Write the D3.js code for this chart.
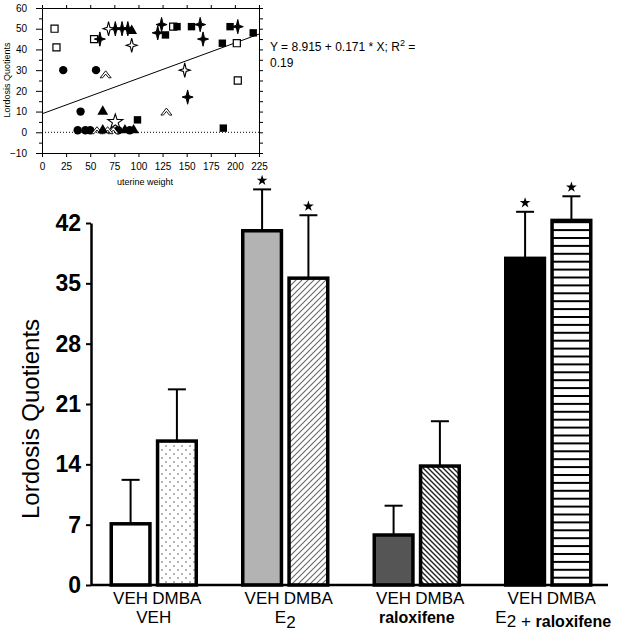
<!DOCTYPE html>
<html><head><meta charset="utf-8">
<script src="https://cdn.jsdelivr.net/npm/d3@7"></script>
<style>
body{margin:0;background:#fff;}
svg{display:block;}
text{font-family:"Liberation Sans",Arial,sans-serif;}
</style></head>
<body>
<svg id="c" width="620" height="635"></svg>
<script>
// ---------- Main bar chart data ----------
const groups = ["VEH", "E2", "raloxifene", "E2 + raloxifene"];
const treatments = ["VEH", "DMBA"];
const meanVEH = [7.1, 41.1, 5.8, 37.9];
const meanDMBA = [16.7, 35.6, 13.8, 42.3];
const semVEH = [5.1, 4.8, 3.4, 5.4];
const semDMBA = [6.0, 7.3, 5.2, 2.8];
const sigVEH = [false, true, false, true];
const sigDMBA = [false, true, false, true];
const yTicks = [0, 7, 14, 21, 28, 35, 42];

// ---------- Inset scatter data (uterine weight, lordosis quotient) ----------
const openSquares = [[13,50],[15,41],[54,45],[136,51],[202,43],[203,25]];
const filledCircles = [[22,30],[56,30],[40,10],[37,1],[45,1],[50,1],[79,1],[91,1]];
const openTriangles = [[66,28],[129,10],[57,1],[74,1],[68,1]];
const filledTriangles = [[93,49],[63,10],[63,1],[86,1],[95,1]];
const filledSparkles = [[60,45],[76,50],[83,50],[89,50],[124,52],[120,48],[164,52],[167,45],[203,51],[151,17]];
const openSparkles = [[69,50],[93,42],[148,30]];
const filledSquares = [[128,47],[140,51],[155,51],[195,51],[187,43],[219,48],[99,6],[188,2]];
const openStars = [[76,5]];
const insetXTicks = [0,25,50,75,100,125,150,175,200,225];
const insetYTicks = [-10,0,10,20,30,40,50,60];
const regIntercept = 8.915, regSlope = 0.171;

const FONT = "'Liberation Sans', Arial, sans-serif";
const svg = d3.select("#c");
const defs = svg.append("defs");

// patterns
const pDots = defs.append("pattern").attr("id","dots").attr("patternUnits","userSpaceOnUse").attr("width",8).attr("height",8);
pDots.append("rect").attr("width",8).attr("height",8).attr("fill","#fff");
pDots.append("circle").attr("cx",2).attr("cy",2).attr("r",0.7).attr("fill","#333");
pDots.append("circle").attr("cx",6).attr("cy",6).attr("r",0.7).attr("fill","#333");

const pFwd = defs.append("pattern").attr("id","fwd").attr("patternUnits","userSpaceOnUse").attr("width",6).attr("height",6);
pFwd.append("rect").attr("width",6).attr("height",6).attr("fill","#fff");
pFwd.append("path").attr("d","M-1,7 L7,-1 M-1,1 L1,-1 M5,7 L7,5").attr("stroke","#666").attr("stroke-width",1.1);

const pBack = defs.append("pattern").attr("id","back").attr("patternUnits","userSpaceOnUse").attr("width",5).attr("height",5);
pBack.append("rect").attr("width",5).attr("height",5).attr("fill","#fff");
pBack.append("path").attr("d","M-1,-1 L6,6 M4,-1 L6,1 M-1,4 L1,6").attr("stroke","#222").attr("stroke-width",1.4);

const pHor = defs.append("pattern").attr("id","hor").attr("patternUnits","userSpaceOnUse").attr("width",8).attr("height",7.9);
pHor.append("rect").attr("width",8).attr("height",7.9).attr("fill","#fff");
pHor.append("rect").attr("y",0).attr("width",8).attr("height",2).attr("fill","#000");

const fillsVEH = ["#fff", "#b3b3b3", "#555", "#000"];
const fillsDMBA = ["url(#dots)", "url(#fwd)", "url(#back)", "url(#hor)"];

// ---------- Main chart ----------
const y = d3.scaleLinear().domain([0, 42]).range([585, 223]);
const x0 = d3.scaleBand().domain(groups).range([88, 614]);
const x1 = d3.scaleBand().domain(treatments).range([0, 88]).paddingInner(0.1);
const gx = g => x0(g) + x0.bandwidth()/2 - 44;

const bars = [];
groups.forEach((g,i) => {
  bars.push({g, t:"VEH", v:meanVEH[i], e:semVEH[i], s:sigVEH[i], fill:fillsVEH[i]});
  bars.push({g, t:"DMBA", v:meanDMBA[i], e:semDMBA[i], s:sigDMBA[i], fill:fillsDMBA[i]});
});

const main = svg.append("g");
bars.forEach(b => {
  const cx = gx(b.g) + x1(b.t) + x1.bandwidth()/2;
  main.append("line").attr("x1",cx).attr("x2",cx).attr("y1",y(b.v)).attr("y2",y(b.v+b.e)).attr("stroke","#000").attr("stroke-width",2);
  main.append("line").attr("x1",cx-9).attr("x2",cx+9).attr("y1",y(b.v+b.e)).attr("y2",y(b.v+b.e)).attr("stroke","#000").attr("stroke-width",2);
  if (b.s) {
    main.append("path").attr("d", d3.symbol(d3.symbolStar, 36)())
      .attr("transform", `translate(${cx},${y(b.v+b.e)-9})`).attr("fill","#000");
  }
});
main.selectAll("rect.bar").data(bars).join("rect").attr("class","bar")
  .attr("x", d => gx(d.g) + x1(d.t) + 1.5)
  .attr("width", x1.bandwidth() - 3)
  .attr("y", d => y(d.v))
  .attr("height", d => y(0) - y(d.v))
  .attr("fill", d => d.fill)
  .attr("stroke", "#000").attr("stroke-width", 3.5);

const yAxis = main.append("g").attr("transform","translate(91,0)")
  .call(d3.axisLeft(y).tickValues(yTicks).tickSize(5).tickPadding(5).tickSizeOuter(0));
yAxis.attr("font-family", FONT);
yAxis.select(".domain").attr("stroke-width",2.5);
yAxis.selectAll(".tick line").attr("stroke-width",2);
yAxis.selectAll(".tick text").attr("font-size",23).attr("font-weight","bold").attr("fill","#000");
main.append("line").attr("x1",91).attr("x2",608).attr("y1",y(0)).attr("y2",y(0)).attr("stroke","#000").attr("stroke-width",2.5);

main.append("text").attr("transform","translate(39,419) rotate(-90)").attr("text-anchor","middle")
  .attr("font-size",24).text("Lordosis Quotients");

bars.forEach(b => {
  const cx = gx(b.g) + x1(b.t) + x1.bandwidth()/2;
  main.append("text").attr("x",cx).attr("y",604).attr("text-anchor","middle").attr("font-size",17).text(b.t);
});
groups.forEach(g => {
  const cx = x0(g) + x0.bandwidth()/2;
  const t = main.append("text").attr("x",cx + (g === "E2 + raloxifene" ? 5 : 0)).attr("y",623).attr("text-anchor","middle").attr("font-size",17);
  if (g === "E2") {
    t.append("tspan").text("E");
    t.append("tspan").attr("dy",5).text("2");
  } else if (g === "E2 + raloxifene") {
    t.append("tspan").text("E");
    t.append("tspan").attr("dy",4).text("2 + ");
    t.append("tspan").attr("font-weight","bold").attr("font-size",16).text("raloxifene");
  } else if (g === "raloxifene") {
    t.attr("font-weight","bold").attr("font-size",16).text(g);
  } else {
    t.text(g);
  }
});

// ---------- Inset scatter ----------
const xs = d3.scaleLinear().domain([0,225]).range([42,259]);
const ys = d3.scaleLinear().domain([-10,60]).range([153,8]);
const inset = svg.append("g");

const styleAxis = (sel) => { sel.attr("font-family", FONT); sel.select(".domain").attr("stroke-width",1); sel.selectAll(".tick line").attr("stroke-width",1); };

inset.append("g").attr("transform","translate(42,0)")
  .call(d3.axisLeft(ys).tickValues(insetYTicks).tickSize(6).tickPadding(9).tickSizeOuter(0))
  .call(styleAxis)
  .selectAll("text").attr("font-size",10).attr("fill","#000");
inset.append("g").attr("transform","translate(42,0)")
  .call(d3.axisLeft(ys).tickValues(insetYTicks.slice(0,-1).map(v=>v+5)).tickSize(3).tickFormat("").tickSizeOuter(0))
  .call(s=>s.select(".domain").remove());
inset.append("g").attr("transform","translate(0,153)")
  .call(d3.axisBottom(xs).tickValues(insetXTicks).tickSize(4).tickPadding(6).tickSizeOuter(0))
  .call(styleAxis)
  .selectAll("text").attr("font-size",10).attr("fill","#000");
inset.append("g").attr("transform","translate(0,8)")
  .call(d3.axisTop(xs).tickValues(insetXTicks).tickSize(3).tickFormat("").tickSizeOuter(0))
  .call(styleAxis);
inset.append("g").attr("transform","translate(259,0)")
  .call(d3.axisRight(ys).tickValues(d3.range(-10,61,5)).tickSize(4).tickFormat("").tickSizeOuter(0))
  .call(styleAxis);

inset.append("line").attr("x1",xs(0)).attr("x2",xs(225)).attr("y1",ys(0)).attr("y2",ys(0))
  .attr("stroke","#000").attr("stroke-width",1).attr("stroke-dasharray","1,2");
inset.append("line").attr("x1",xs(0)).attr("x2",xs(225))
  .attr("y1",ys(regIntercept)).attr("y2",ys(regIntercept + regSlope*225))
  .attr("stroke","#000").attr("stroke-width",1);

const sparkle = (r) => { const w = r*0.25; return `M0,${-r*1.3}L${w},${-w}L${r},0L${w},${w}L0,${r*1.3}L${-w},${w}L${-r},0L${-w},${-w}Z`; };
const caret = "M-5.5,3.5L0,-3.5L5.5,3.5L3,3.5L0,-0.2L-3,3.5Z";
const sets = [
  {data: openSquares, path: d3.symbol(d3.symbolSquare, 50)(), fill:"#fff", stroke:"#000", sw:1.2},
  {data: filledCircles, path: d3.symbol(d3.symbolCircle, 55)(), fill:"#000", stroke:"none", sw:0},
  {data: openTriangles, path: caret, fill:"#fff", stroke:"#000", sw:0.9},
  {data: filledTriangles, path: d3.symbol(d3.symbolTriangle, 50)(), fill:"#000", stroke:"none", sw:0},
  {data: filledSparkles, path: sparkle(5.5), fill:"#000", stroke:"#000", sw:1},
  {data: openSparkles, path: sparkle(5.5), fill:"#fff", stroke:"#000", sw:1.1},
  {data: filledSquares, path: d3.symbol(d3.symbolSquare, 55)(), fill:"#000", stroke:"none", sw:0},
  {data: openStars, path: d3.symbol(d3.symbolStar, 70)(), fill:"#fff", stroke:"#000", sw:1.1}
];
sets.forEach(s => {
  inset.append("g").selectAll("path").data(s.data).join("path")
    .attr("d", s.path)
    .attr("transform", d => `translate(${xs(d[0])},${ys(d[1])})`)
    .attr("fill", s.fill).attr("stroke", s.stroke).attr("stroke-width", s.sw);
});

inset.append("text").attr("transform","translate(10,80) rotate(-90)").attr("text-anchor","middle")
  .attr("font-size",9).text("Lordosis Quotients");
inset.append("text").attr("x",145).attr("y",185).attr("text-anchor","middle").attr("font-size",9).text("uterine weight");
const eq = inset.append("text").attr("x",270).attr("y",51).attr("font-size",12);
eq.append("tspan").text("Y = 8.915 + 0.171 * X; R");
eq.append("tspan").attr("dy",-5).attr("font-size",9).text("2");
eq.append("tspan").attr("dy",5).text(" =");
inset.append("text").attr("x",270).attr("y",67).attr("font-size",12).text("0.19");
</script>
</body></html>
